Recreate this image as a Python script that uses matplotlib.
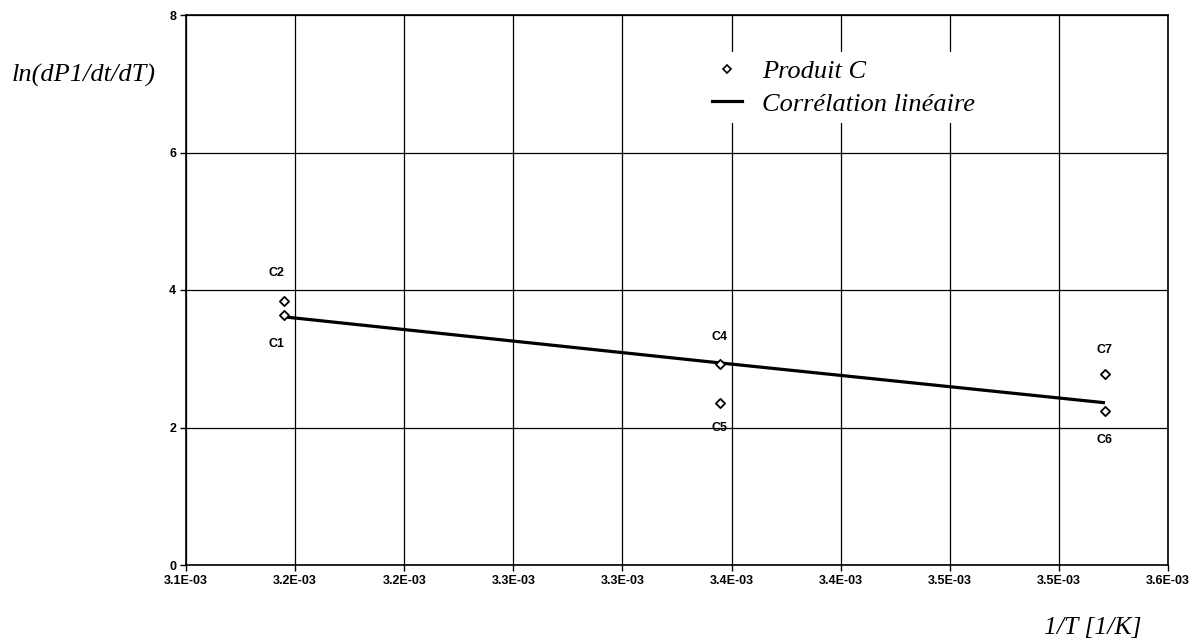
import matplotlib
matplotlib.use("Agg")
import matplotlib.pyplot as plt
from matplotlib.lines import Line2D

# Data
labels = ["C1", "C2", "C4", "C5", "C6", "C7"]
inv_T = [3.1447e-3, 3.1447e-3, 3.3445e-3, 3.3445e-3, 3.5211e-3, 3.5211e-3]
ln_rate = [3.64, 3.84, 2.92, 2.36, 2.24, 2.78]

fit_x = [3.1447e-3, 3.3445e-3, 3.5211e-3]
fit_y = [3.61, 2.94, 2.36]

x_ticks = [3.10e-3, 3.15e-3, 3.20e-3, 3.25e-3, 3.30e-3,
           3.35e-3, 3.40e-3, 3.45e-3, 3.50e-3, 3.55e-3]
x_tick_labels = ["3.1E-03", "3.2E-03", "3.2E-03", "3.3E-03", "3.3E-03",
                 "3.4E-03", "3.4E-03", "3.5E-03", "3.5E-03", "3.6E-03"]
y_ticks = [0, 2, 4, 6, 8]

# label placement (pixels): above or below the point
label_offsets = {"C1": (-7, -29), "C2": (-7, 28), "C4": (0, 27), "C5": (0, -25),
                 "C6": (0, -29), "C7": (0, 24)}

SERIF = {"family": "Liberation Serif", "style": "italic"}
SANS_BOLD = {"family": "Liberation Sans", "weight": "bold", "size": 9}

fig = plt.figure(figsize=(11.98, 6.41), dpi=100)
ax = fig.add_axes([186 / 1198, 1 - 565 / 641, (1168 - 186) / 1198, (565 - 15) / 641])

ax.plot(fit_x, fit_y, color="black", linewidth=2.3, solid_capstyle="butt", zorder=3)
ax.scatter(inv_T, ln_rate, marker="D", s=22, facecolor="white", edgecolor="black",
           linewidth=1.3, zorder=4)

for name, x, y in zip(labels, inv_T, ln_rate):
    dx, dy = label_offsets[name]
    ax.annotate(name, (x, y), xytext=(dx * 0.72, dy * 0.72), textcoords="offset points",
                ha="center", va="center", **SANS_BOLD)

ax.set_xlim(3.10e-3, 3.55e-3)
ax.set_ylim(0, 8)
ax.set_xticks(x_ticks)
ax.set_xticklabels(x_tick_labels)
ax.set_yticks(y_ticks)
for t in ax.get_xticklabels() + ax.get_yticklabels():
    t.set_fontfamily("Liberation Sans")
    t.set_fontweight("bold")
    t.set_fontsize(9)
ax.tick_params(direction="out", length=4, width=1, color="black", pad=3)

ax.grid(True, color="black", linewidth=0.9)
ax.set_axisbelow(True)
for s in ax.spines.values():
    s.set_color("black")
    s.set_linewidth(1.2)

fig.text(12 / 1198, 1 - 75 / 641, "ln(dP1/dt/dT)", fontsize=19, ha="left", va="center", **SERIF)
fig.text(1093 / 1198, 1 - 628 / 641, "1/T [1/K]", fontsize=18.5, ha="center", va="center", **SERIF)

handles = [
    Line2D([], [], linestyle="none", marker="D", markersize=4.5, markerfacecolor="white",
           markeredgecolor="black", markeredgewidth=1.2),
    Line2D([], [], color="black", linewidth=2.3),
]
leg = ax.legend(handles, ["Produit C", "Corrélation linéaire"], loc="upper left",
                bbox_to_anchor=(704 / 1198, 1 - 52 / 641), bbox_transform=fig.transFigure,
                prop={"family": "Liberation Serif", "style": "italic", "size": 19},
                frameon=True, fancybox=False, handlelength=1.14, handletextpad=0.75,
                labelspacing=0.33, borderpad=0.3, borderaxespad=0)
leg.get_frame().set_edgecolor("none")
leg.get_frame().set_facecolor("white")
leg.get_frame().set_alpha(1)

fig.savefig("out.png", dpi=100, facecolor="white")
